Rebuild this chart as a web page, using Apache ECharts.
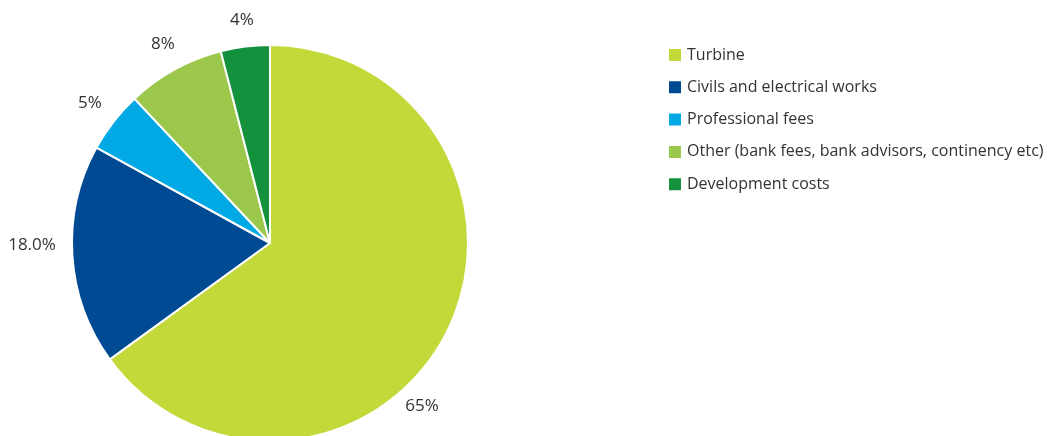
<!DOCTYPE html>
<html>
<head>
<meta charset="utf-8">
<script src="https://cdn.jsdelivr.net/npm/echarts@6/dist/echarts.min.js"></script>
<style>
html, body { margin: 0; padding: 0; background: #fff; }
#main { width: 1051px; height: 436px; }
</style>
</head>
<body>
<div id="main"></div>
<script>
var categories = ['Turbine', 'Civils and electrical works', 'Professional fees',
	'Other (bank fees, bank advisors, continency etc)', 'Development costs'];
var values = [65, 18, 5, 8, 4];
var labelTexts = ['65%', '18.0%', '5%', '8%', '4%'];
var colors = ['#c3d93a', '#004a93', '#00a9e3', '#9bc84b', '#14913c'];

var cx = 270, cy = 243, r = 198;
// label angle tweaks (degrees) - some labels are not on the slice middle in the original
var labelShift = [20, 3, 0, 0.5, 0];
var labelDist = [223, 238, 228, 226, 225];

var total = values.reduce(function (a, b) { return a + b; }, 0);

var myChart = echarts.init(document.getElementById('main'));

var option = {
	animation: false,
	color: colors,
	legend: {
		orient: 'vertical',
		left: 662,
		top: 42,
		icon: 'rect',
		itemWidth: 14,
		itemHeight: 14,
		itemGap: 16.3,
		textStyle: { fontFamily: 'Open Sans', fontSize: 16, color: '#333' },
		data: categories
	},
	series: [{
		type: 'pie',
		center: [cx, cy],
		radius: r,
		startAngle: 90,
		clockwise: true,
		itemStyle: { borderColor: '#fff', borderWidth: 2 },
		label: {
			show: true,
			position: 'outside',
			fontFamily: 'Open Sans',
			fontSize: 17,
			color: '#333',
			overflow: 'none',
			width: 80,
			formatter: function (p) { return labelTexts[p.dataIndex]; }
		},
		labelLine: { show: false },
		labelLayout: function (p) {
			var i = p.dataIndex;
			var before = 0;
			for (var k = 0; k < i; k++) before += values[k];
			var a = ((before + values[i] / 2) / total * 360 + labelShift[i]) * Math.PI / 180;
			return {
				x: cx + labelDist[i] * Math.sin(a),
				y: cy - labelDist[i] * Math.cos(a),
				align: 'center',
				verticalAlign: 'middle'
			};
		},
		emphasis: { disabled: true },
		data: categories.map(function (c, i) { return { name: c, value: values[i] }; })
	}]
};

myChart.setOption(option);
</script>
</body>
</html>
